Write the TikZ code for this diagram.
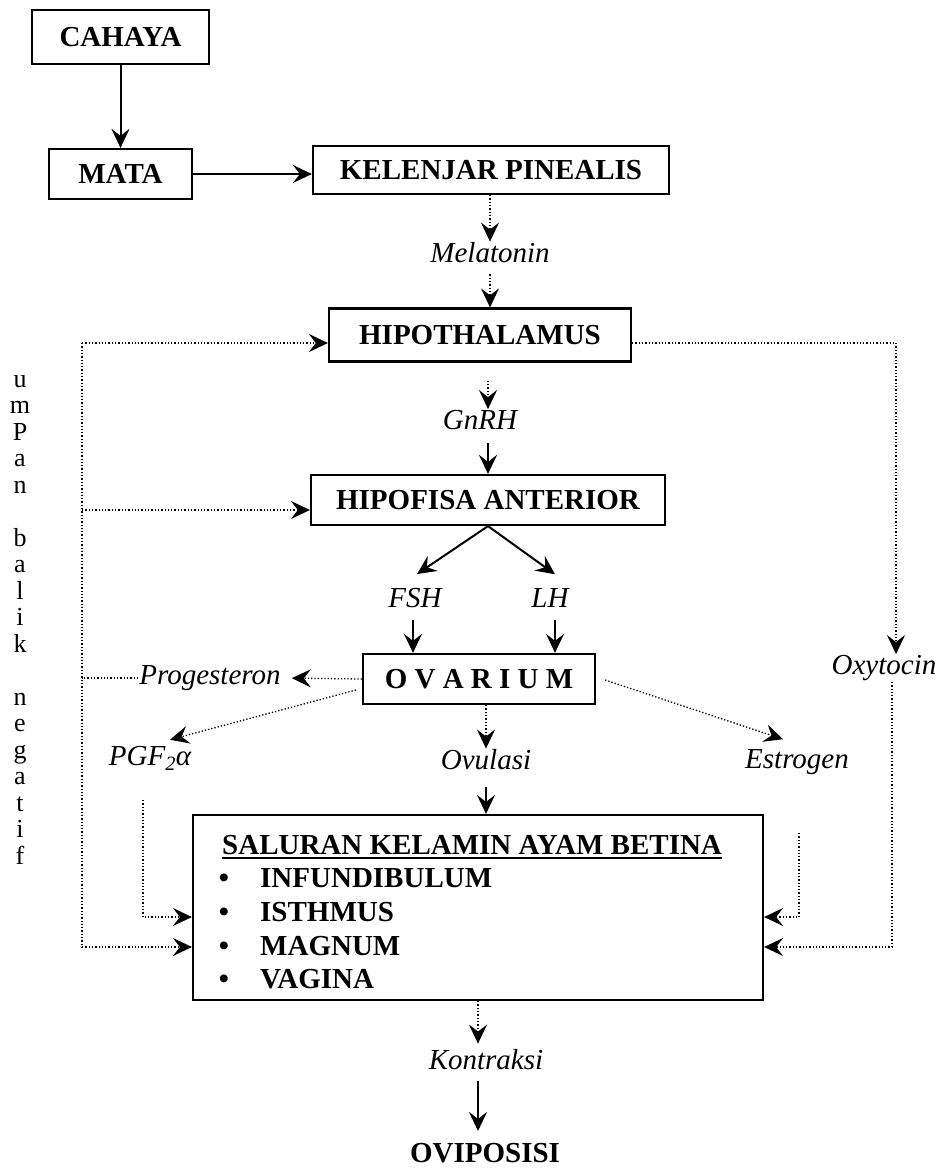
\documentclass[tikz,border=0pt]{standalone}
\usepackage{fontspec}
\setmainfont{Liberation Serif}
\usetikzlibrary{arrows.meta}
\newcommand\mybold{\fontsize{29}{32}\selectfont\bfseries}
\newcommand\myital{\fontsize{29}{32}\selectfont\itshape}
\newcommand\myreg{\fontsize{26}{28}\selectfont}
\begin{document}
\begin{tikzpicture}[x=1pt,y=-1pt,
  box/.style={draw, line width=2.2pt, inner sep=0pt, font=\mybold, align=center},
  lbl/.style={font=\myital, inner sep=1pt},
  headtip/.style={-{Stealth[length=19pt,width=18pt,inset=7pt]}},
  sarr/.style={line width=2pt, headtip},
  darr/.style={line width=1.3pt, dash pattern=on 1.3pt off 2pt, headtip},
  dline/.style={line width=1.3pt, dash pattern=on 1.3pt off 2pt},
  itemtext/.style={font=\mybold, inner sep=0pt},
  vlet/.style={font=\myreg, anchor=base, inner sep=0pt}
]
\useasboundingbox[fill=white] (0,0) rectangle (942,1169);

% boxes
\node[box, minimum width=177pt, minimum height=54pt] (cah) at (120.5,37) {CAHAYA};
\node[box, minimum width=143pt, minimum height=50pt] (mata) at (120.5,174) {MATA};
\node[box, minimum width=356pt, minimum height=48pt] (kp) at (491,170) {KELENJAR PINEALIS};
\node[lbl] (mel) at (490,253) {Melatonin};
\node[box, minimum width=302pt, minimum height=53pt] (hipot) at (480,335) {HIPOTHALAMUS};
\node[lbl] (gnrh) at (480,420) {GnRH};
\node[box, minimum width=354pt, minimum height=50pt] (hipof) at (488,500) {HIPOFISA ANTERIOR};
\node[lbl] (fsh) at (415,598) {FSH};
\node[lbl] (lh) at (550,598) {LH};
\node[box, minimum width=232pt, minimum height=50pt] (ovar) at (479,679) {O~V~A~R~I~U~M};
\node[lbl] (prog) at (210,678) {Progesteron};
\node[lbl] (pgf) at (150,758) {PGF\textsubscript{2}α};
\node[lbl] (ovul) at (486,760) {Ovulasi};
\node[lbl] (est) at (797,762) {Estrogen};
\node[lbl] (oxy) at (884,668) {Oxytocin};

\node[draw, line width=2.2pt, minimum width=570pt, minimum height=185pt, inner sep=0pt] (sal) at (478,907.5) {};
\node[itemtext, anchor=west] (title) at (222,845) {SALURAN KELAMIN AYAM BETINA};
\draw[line width=2.5pt] ([yshift=-3pt]title.south west) -- ([yshift=-3pt]title.south east);
\foreach \t/\y [count=\i] in {INFUNDIBULUM/887, ISTHMUS/921, MAGNUM/955, VAGINA/988} {
  \node[itemtext, anchor=base west] (it\i) at (260,\y) {\t};
  \node[itemtext, anchor=base] (bu\i) at (224,\y) {•};
}
\node[lbl] (kon) at (486,1060) {Kontraksi};
\node[itemtext] (ovi) at (485,1153) {OVIPOSISI};

% vertical letters
\foreach \c/\k in {u/0,m/1,P/2,a/3,n/4,b/6,a/7,l/8,i/9,k/10,n/12,e/13,g/14,a/15,t/16,i/17,f/18}
  \node[vlet] (v\k) at (20,{387+26.5*\k}) {\c};

% main chain
\draw[sarr] (cah.south) -- (mata.north);
\draw[sarr] (mata.east) -- (mata.east -| kp.west);
\draw[darr] (kp.south -| mel) -- (mel.north);
\draw[darr, shorten <=10pt] (mel.south) -- (mel.south |- hipot.north);
\draw[darr, shorten <=18pt] ([xshift=8pt]hipot.south) -- ([xshift=8pt]gnrh.north);
\draw[sarr, shorten <=12pt] ([xshift=8pt]gnrh.south) -- ([xshift=8pt]gnrh.south |- hipof.north);
\draw[sarr] (hipof.south) -- ([shift={(2,-13)}]fsh.north);
\draw[sarr] (hipof.south) -- ([shift={(5,-13)}]lh.north);
\draw[sarr, shorten <=11pt] ([xshift=-2pt]fsh.south) -- ([xshift=-2pt]fsh.south |- ovar.north);
\draw[sarr, shorten <=11pt] ([xshift=5pt]lh.south) -- ([xshift=5pt]lh.south |- ovar.north);

% from ovarium
\draw[darr, shorten >=10pt] (ovar.west) -- (prog.east);
\draw[darr] ([shift={(-6,11)}]ovar.west) -- ([shift={(20,-5)}]pgf.north);
\draw[darr] ([shift={(9,1)}]ovar.east) -- ([shift={(-14,-9)}]est.north);
\draw[darr] (ovar.south -| ovul) -- (ovul.north);
\draw[sarr, shorten <=16pt] (ovul.south) -- (ovul.south |- sal.north);

% bottom chain
\draw[darr, shorten >=5pt] (sal.south) -- (sal.south |- kon.north);
\draw[sarr, shorten <=10pt, shorten >=12pt] (sal.south |- kon.south) -- (sal.south |- ovi.north);

% feedback on the left
\coordinate (fbtop) at (82,343);
\coordinate (fbmid) at (82,510);
\coordinate (fbbot) at (82,947);
\draw[dline] (fbtop) -- (fbbot);
\draw[darr] (fbtop) -- (hipot.west |- fbtop);
\draw[darr] (fbmid) -- (hipof.west |- fbmid);
\draw[darr] (fbbot) -- (sal.west |- fbbot);
\draw[dline] (prog.west) -- (prog.west -| fbtop);

% PGF2a to saluran
\coordinate (pg0) at (143,800);
\coordinate (pg) at (143,917);
\draw[darr] (pg0) -- (pg) -- (sal.west |- pg);

% Estrogen to saluran
\coordinate (es0) at (799,833);
\coordinate (es) at (799,917);
\draw[darr] (es0) -- (es) -- (sal.east |- es);

% Oxytocin
\coordinate (oxtop) at (896,343);
\coordinate (oxbot) at (892,947);
\draw[darr] (hipot.east |- oxtop) -- (oxtop) -- (oxtop |- oxy.north);
\draw[darr] (oxy.south -| oxbot) -- (oxbot) -- (sal.east |- oxbot);
\end{tikzpicture}
\end{document}
